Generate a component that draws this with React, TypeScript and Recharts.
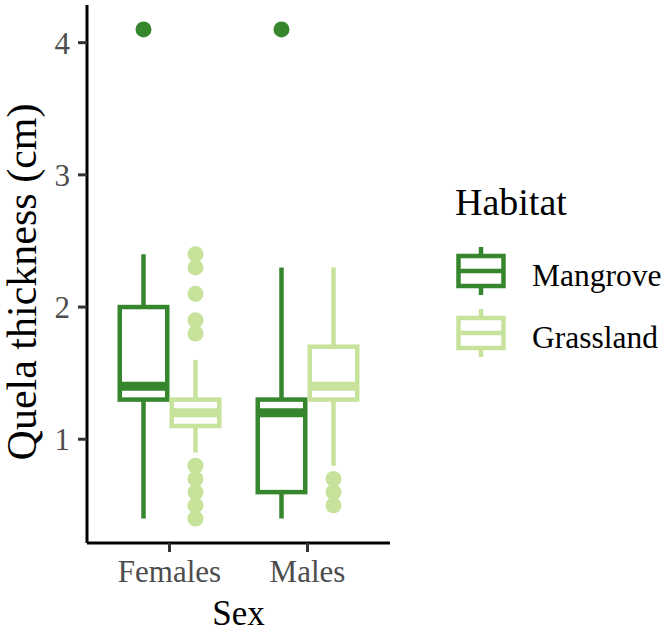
import { ComposedChart, Bar, XAxis, YAxis, Legend } from 'recharts';

const sexes = ['Females', 'Males'];
const habitats = ['Mangrove', 'Grassland'];
const habitatColors = ['#35862c', '#c7e29a'];
const yTicks = [1, 2, 3, 4];

// box summaries per sex (Females, Males)
const mangroveMin = [0.4, 0.4];
const mangroveQ1 = [1.3, 0.6];
const mangroveMedian = [1.4, 1.2];
const mangroveQ3 = [2.0, 1.3];
const mangroveMax = [2.4, 2.3];
const mangroveOutliers = [[4.1], [4.1]];

const grasslandMin = [0.9, 0.8];
const grasslandQ1 = [1.1, 1.3];
const grasslandMedian = [1.2, 1.4];
const grasslandQ3 = [1.3, 1.7];
const grasslandMax = [1.6, 2.3];
const grasslandOutliers = [
  [2.4, 2.3, 2.1, 1.9, 1.8, 0.8, 0.7, 0.6, 0.5, 0.4],
  [0.7, 0.6, 0.5],
];

interface BoxStats {
  min: number;
  q1: number;
  median: number;
  q3: number;
  max: number;
  outliers: number[];
}

interface Row {
  sex: string;
  Mangrove: BoxStats;
  Grassland: BoxStats;
}

const rows: Row[] = sexes.map((sex, i) => ({
  sex,
  Mangrove: {
    min: mangroveMin[i],
    q1: mangroveQ1[i],
    median: mangroveMedian[i],
    q3: mangroveQ3[i],
    max: mangroveMax[i],
    outliers: mangroveOutliers[i],
  },
  Grassland: {
    min: grasslandMin[i],
    q1: grasslandQ1[i],
    median: grasslandMedian[i],
    q3: grasslandQ3[i],
    max: grasslandMax[i],
    outliers: grasslandOutliers[i],
  },
}));

const FONT = '"Liberation Serif", "Times New Roman", serif';
const LINE = 4.5;

// The bar spans q1..q3; its pixel height gives the y scale for the other stats.
function makeBoxShape(habitat: 'Mangrove' | 'Grassland', color: string) {
  return (props: any) => {
    const { x, y, width, height, payload } = props;
    const s: BoxStats = payload[habitat];
    const top = Math.min(y, y + height);
    const h = Math.abs(height);
    const pxPerUnit = h / (s.q3 - s.q1);
    const py = (v: number) => top + (s.q3 - v) * pxPerUnit;
    const cx = x + width / 2;
    const left = x + LINE / 2;
    const right = x + width - LINE / 2;
    return (
      <g>
        <line x1={cx} x2={cx} y1={py(s.max)} y2={py(s.q3)} stroke={color} strokeWidth={LINE} />
        <line x1={cx} x2={cx} y1={py(s.q1)} y2={py(s.min)} stroke={color} strokeWidth={LINE} />
        <rect x={left} y={top} width={right - left} height={h} fill="#fff" stroke={color} strokeWidth={LINE} />
        <line x1={left} x2={right} y1={py(s.median)} y2={py(s.median)} stroke={color} strokeWidth={LINE * 2} />
        {s.outliers.map((v, k) => (
          <circle key={k} cx={cx} cy={py(v)} r={8} fill={color} />
        ))}
      </g>
    );
  };
}

function HabitatLegend({ payload }: any) {
  const items = ((payload ?? []) as { value: string; color: string }[])
    .slice()
    .sort((a, b) => habitats.indexOf(a.value) - habitats.indexOf(b.value));
  return (
    <svg width={225} height={200} style={{ display: 'block' }}>
      <text x={15} y={35} fontFamily={FONT} fontSize={38} fill="#000">
        Habitat
      </text>
      {items.map((item, i) => {
        const cy = 91 + i * 62;
        return (
          <g key={item.value}>
            <line x1={41} x2={41} y1={cy - 24} y2={cy + 24} stroke={item.color} strokeWidth={LINE} />
            <rect x={18.5} y={cy - 15} width={45} height={30} fill="#fff" stroke={item.color} strokeWidth={LINE} />
            <line x1={18.5} x2={63.5} y1={cy} y2={cy} stroke={item.color} strokeWidth={LINE} />
            <text x={92} y={cy + 15} fontFamily={FONT} fontSize={31.5} fill="#000">
              {item.value}
            </text>
          </g>
        );
      })}
    </svg>
  );
}

export default function App() {
  return (
    <div style={{ position: 'absolute', left: 0, top: 0, background: '#fff' }}>
      <ComposedChart
        width={665}
        height={633}
        data={rows}
        margin={{ top: 5, right: 275, bottom: 0, left: 0 }}
        barGap={0}
      >
        <XAxis
          dataKey="sex"
          type="category"
          height={90}
          padding={{ left: 13.5, right: 13.5 }}
          axisLine={{ stroke: '#000', strokeWidth: 3 }}
          tickLine={{ stroke: '#333', strokeWidth: 3 }}
          tickSize={9}
          tickMargin={8}
          tick={{ fill: '#4d4d4d', fontSize: 31, fontFamily: FONT }}
          label={{
            content: ({ viewBox }: any) => (
              <text
                x={viewBox.x + viewBox.width / 2}
                y={625}
                textAnchor="middle"
                fontFamily={FONT}
                fontSize={35}
                fill="#000"
              >
                Sex
              </text>
            ),
          }}
        />
        <YAxis
          type="number"
          width={87}
          domain={[0.215, 4.285]}
          ticks={yTicks}
          allowDataOverflow
          axisLine={{ stroke: '#000', strokeWidth: 3 }}
          tickLine={{ stroke: '#333', strokeWidth: 3 }}
          tickSize={9}
          tickMargin={8}
          tick={{ fill: '#4d4d4d', fontSize: 31, fontFamily: FONT }}
          label={{
            content: () => (
              <text
                x={36}
                y={282}
                transform="rotate(-90 36 282)"
                textAnchor="middle"
                fontFamily={FONT}
                fontSize={42}
                fill="#000"
              >
                Quela thickness (cm)
              </text>
            ),
          }}
        />
        <Legend
          layout="vertical"
          align="center"
          verticalAlign="middle"
          wrapperStyle={{ left: 440, top: 180, width: 225 }}
          content={<HabitatLegend />}
        />
        {habitats.map((hab, i) => (
          <Bar
            key={hab}
            name={hab}
            dataKey={(d: Row) => [d[hab as 'Mangrove'].q1, d[hab as 'Mangrove'].q3]}
            fill={habitatColors[i]}
            barSize={52}
            shape={makeBoxShape(hab as 'Mangrove' | 'Grassland', habitatColors[i])}
            isAnimationActive={false}
          />
        ))}
      </ComposedChart>
    </div>
  );
}
